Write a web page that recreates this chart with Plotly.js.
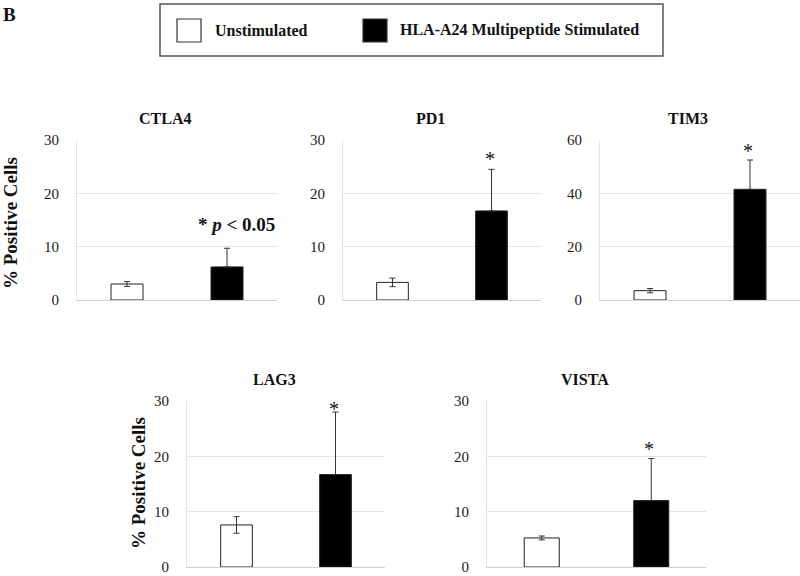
<!DOCTYPE html>
<html>
<head>
<meta charset="utf-8">
<script src="https://cdn.plot.ly/plotly-3.0.1.min.js"></script>
<style>html,body{margin:0;padding:0;background:#fff;}#chart{width:800px;height:576px;}</style>
</head>
<body>
<div id="chart"></div>
<script>
// ---- data ----
var markers = ['CTLA4', 'PD1', 'TIM3', 'LAG3', 'VISTA'];
var conditions = ['Unstimulated', 'HLA-A24 Multipeptide Stimulated'];
var unstimulated = [3.0, 3.3, 3.5, 7.6, 5.25];
var unstimulatedErr = [0.45, 0.8, 0.8, 1.5, 0.35];
var stimulated = [6.2, 16.7, 41.5, 16.7, 12.0];
var stimulatedErr = [3.5, 7.8, 11.0, 11.3, 7.6];
var yMax = [30, 30, 60, 30, 30];
var yStep = [10, 10, 20, 10, 10];
var yAxisLabel = '% Positive Cells';
var panelLabel = 'B';
var sigNote = '* <i>p</i> &lt; 0.05';

// ---- layout geometry (px) ----
var W = 800, H = 576;
var panels = [
  {x0: 77, x1: 277, top: 140, bot: 300},
  {x0: 343, x1: 541, top: 140, bot: 300},
  {x0: 600, x1: 800, top: 140, bot: 300},
  {x0: 187, x1: 385, top: 401, bot: 567},
  {x0: 487, x1: 706, top: 401, bot: 567}
];
var starShift = [0, 9, 8, 2, 9];
var serif = '"Liberation Serif", "Times New Roman", serif';

var traces = [];
var layout = {
  width: W, height: H,
  margin: {l: 0, r: 0, t: 0, b: 0},
  paper_bgcolor: '#ffffff', plot_bgcolor: '#ffffff',
  showlegend: false,
  barmode: 'overlay',
  font: {family: serif, color: '#1a1a1a', size: 14},
  annotations: [], shapes: []
};

markers.forEach(function (m, i) {
  var p = panels[i];
  var ax = i === 0 ? '' : String(i + 1);
  traces.push({
    type: 'bar',
    x: conditions,
    y: [unstimulated[i], stimulated[i]],
    xaxis: 'x' + ax, yaxis: 'y' + ax,
    width: 0.32,
    marker: {color: ['#ffffff', '#000000'], line: {color: '#222222', width: 1}},
    error_y: {type: 'data', symmetric: false,
              array: [unstimulatedErr[i], stimulatedErr[i]],
              arrayminus: [unstimulatedErr[i], 0], visible: true,
              color: '#333333', thickness: 1, width: 3},
    hoverinfo: 'x+y'
  });
  layout['xaxis' + ax] = {
    domain: [p.x0 / W, p.x1 / W],
    anchor: 'y' + ax,
    showticklabels: false, showgrid: false, zeroline: false,
    showline: true, linecolor: '#cfcfcf', linewidth: 1, ticks: ''
  };
  layout['yaxis' + ax] = {
    domain: [1 - p.bot / H, 1 - p.top / H],
    anchor: 'x' + ax,
    range: [0, yMax[i]], dtick: yStep[i], tick0: 0,
    showgrid: true, gridcolor: '#e4e4e4', gridwidth: 1,
    zeroline: false, showline: true, linecolor: '#e4e4e4', linewidth: 1,
    ticks: '', ticklabelstandoff: 14, ticklabeloverflow: 'allow',
    tickfont: {family: serif, size: 15, color: '#1a1a1a'}
  };
  // panel title
  layout.annotations.push({
    xref: 'paper', yref: 'paper',
    x: (p.x0 + p.x1) / 2 / W - 0.015, y: 1 - (p.top - 22) / H,
    text: '<b>' + m + '</b>', showarrow: false,
    xanchor: 'center', yanchor: 'middle',
    font: {family: serif, size: 16, color: '#111'}
  });
  // significance marks
  if (i === 0) {
    layout.annotations.push({
      xref: 'x' + ax, yref: 'y' + ax,
      x: conditions[1], y: stimulated[i] + stimulatedErr[i],
      text: '<b>' + sigNote + '</b>', showarrow: false,
      xanchor: 'center', yanchor: 'bottom', xshift: 9, yshift: 11,
      font: {family: serif, size: 19, color: '#111'}
    });
  } else {
    layout.annotations.push({
      xref: 'x' + ax, yref: 'y' + ax,
      x: conditions[1], y: stimulated[i] + stimulatedErr[i],
      text: '*', showarrow: false,
      xanchor: 'center', yanchor: 'middle', xshift: -2, yshift: starShift[i] + 1,
      font: {family: serif, size: 20, color: '#111'}
    });
  }
});

// y-axis labels
layout.annotations.push({
  xref: 'paper', yref: 'paper', x: 10 / W, y: 1 - 223 / H,
  text: '<b>' + yAxisLabel + '</b>', textangle: -90, showarrow: false,
  xanchor: 'center', yanchor: 'middle', font: {family: serif, size: 19, color: '#111'}
});
layout.annotations.push({
  xref: 'paper', yref: 'paper', x: 138 / W, y: 1 - 483 / H,
  text: '<b>' + yAxisLabel + '</b>', textangle: -90, showarrow: false,
  xanchor: 'center', yanchor: 'middle', font: {family: serif, size: 19, color: '#111'}
});
// panel letter
layout.annotations.push({
  xref: 'paper', yref: 'paper', x: 1 / W, y: 1 - 2 / H,
  text: '<b>' + panelLabel + '</b>', showarrow: false,
  xanchor: 'left', yanchor: 'top', font: {family: serif, size: 19, color: '#111'}
});

// legend box (drawn)
layout.shapes.push({type: 'rect', xref: 'paper', yref: 'paper',
  x0: 160 / W, x1: 663 / W, y0: 1 - 56 / H, y1: 1 - 4 / H,
  line: {color: '#555555', width: 1.5}, fillcolor: 'rgba(0,0,0,0)'});
var legendSwatch = [{x: 177, fill: '#ffffff', text: 213}, {x: 363, fill: '#000000', text: 398}];
conditions.forEach(function (c, k) {
  var s = legendSwatch[k];
  layout.shapes.push({type: 'rect', xref: 'paper', yref: 'paper',
    x0: s.x / W, x1: (s.x + 24) / W, y0: 1 - 42 / H, y1: 1 - 19 / H,
    line: {color: '#333333', width: 1.2}, fillcolor: s.fill});
  layout.annotations.push({xref: 'paper', yref: 'paper',
    x: s.text / W, y: 1 - 30 / H, text: '<b>' + c + '</b>', showarrow: false,
    xanchor: 'left', yanchor: 'middle', font: {family: serif, size: 16, color: '#111'}});
});

Plotly.newPlot('chart', traces, layout, {displayModeBar: false, staticPlot: true});
</script>
</body>
</html>
